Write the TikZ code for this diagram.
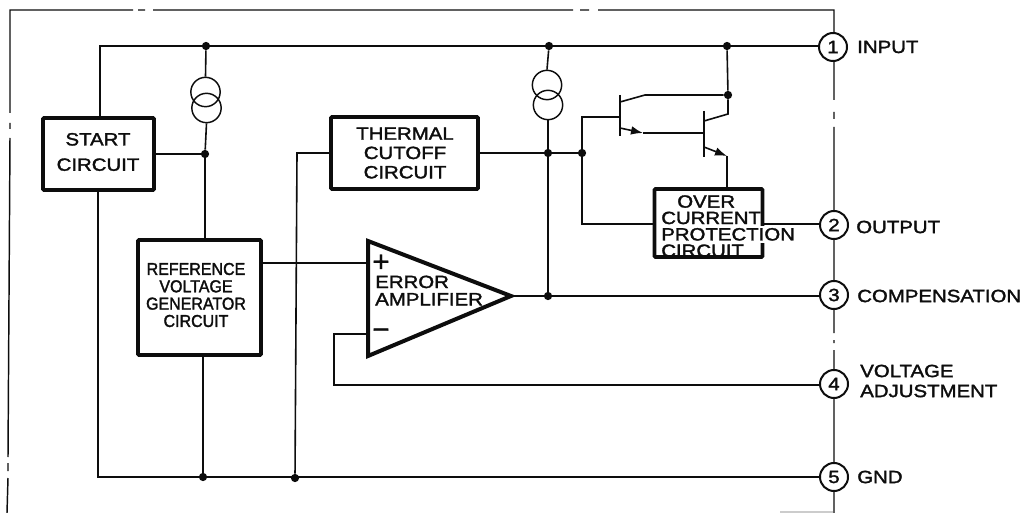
\documentclass[tikz,border=0pt]{standalone}
\usepackage{fontspec}
\usetikzlibrary{arrows.meta}
\setmainfont{Liberation Sans}
\newfontfamily\lblfont{Liberation Sans}[FakeStretch=1.15,FakeBold=1.8]
\newfontfamily\condfont{Liberation Sans}[FakeStretch=0.93,FakeBold=1.8]
\newfontfamily\symfont{Liberation Sans}[FakeBold=1]
\definecolor{ink}{gray}{0.05}
\tikzset{
  frameline/.style={draw=ink,line width=1.1pt},
  wire/.style={draw=ink,line width=1.2pt},
  blockbox/.style={draw=ink,line width=2.9pt,rounded corners=0.8pt,inner sep=0pt,anchor=center},
  lab/.style={text=ink,inner sep=0pt,font=\lblfont\fontsize{13.3}{15.5}\selectfont,align=center},
  pinlab/.style={lab,anchor=west,align=left},
  pin/.style={circle,draw=ink,fill=white,line width=1.5pt,minimum size=21pt,inner sep=0pt,text=ink,font=\lblfont\fontsize{13.3}{15}\selectfont},
  dot/.style={circle,fill=ink,inner sep=0pt,minimum size=6.2pt},
  source/.style={circle,draw=ink,line width=1.1pt,minimum size=22pt,inner sep=0pt},
  bar/.style={draw=ink,line width=1.2pt},
  emit/.style={wire,-{Latex[length=9pt,width=6.5pt]}},
}
\begin{document}
\begin{tikzpicture}[x=0.75pt,y=-0.75pt]
\useasboundingbox (0,0) rectangle (1028,513);

% package outline (broken, as printed)
\draw[frameline] (7,513) -- (8,478) (8,471) -- (8,463) (8,457) -- (10,138) (10,129) -- (10,123) (10,113) -- (10,10)
  -- (133,10) (138,10) -- (145,10) (153,10) -- (573,10) (580,10) -- (589,10) (598,10) -- (834,10)
  -- (834,100) (834,112) -- (834,119) (834,127) -- (834,333) (834,340) -- (834,343) (834,350) -- (834,513);
\draw[draw=black!20,line width=1pt] (780,512) -- (833,512);

% pins
\node[pin] (pin1) at (833,47) {1};
\node[pin] (pin2) at (834,225) {2};
\node[pin] (pin3) at (834,295) {3};
\node[pin] (pin4) at (834,384) {4};
\node[pin] (pin5) at (834,477) {5};
\node[pinlab] (l1) at (857,47) {INPUT};
\node[pinlab] (l2) at (856,227) {OUTPUT};
\node[pinlab] (l3) at (857,296) {COMPENSATION};
\node[pinlab] (l4) at (860,381) {VOLTAGE\\[-0.5pt]ADJUSTMENT};
\node[pinlab] (l5) at (857,477) {GND};

% blocks
\node[blockbox,minimum width=83.25pt,minimum height=54pt] (start) at (98.5,154) {};
\node[blockbox,minimum width=92.25pt,minimum height=86.25pt] (ref) at (199.5,297.5) {};
\node[blockbox,minimum width=110.25pt,minimum height=54pt] (therm) at (404.5,153) {};
\node[blockbox,minimum width=81pt,minimum height=51pt] (ocp) at (708.5,223) {};

% amplifier
\coordinate (ampT) at (368,241);
\coordinate (ampB) at (368,356);
\coordinate (ampO) at (511,296);
\coordinate (ampP) at (368,263);
\coordinate (ampM) at (368,334);
\draw[draw=ink,line width=3pt,line join=miter] (ampT) -- (ampO) -- (ampB) -- cycle;

% junctions
\node[dot] (j1) at (206,46) {};
\node[dot] (j2) at (549,46) {};
\node[dot] (j3) at (727,46) {};
\node[dot] (j4) at (205,154) {};
\node[dot] (j5) at (548,153) {};
\node[dot] (j6) at (582,153) {};
\node[dot] (j7) at (728,95) {};
\node[dot] (j8) at (548,296) {};
\node[dot] (j9) at (203,477) {};
\node[dot] (j10) at (295,478) {};

% current sources
\node[source] (s1a) at (205.5,92) {};
\node[source] (s1b) at (206.5,108) {};
\node[source] (s2a) at (547,85) {};
\node[source] (s2b) at (548,105) {};

% free corners
\coordinate (cTL) at (100,46);
\coordinate (cBL) at (98,477);
\coordinate (cTh) at (297,153);
\coordinate (cB1) at (582,117);
\coordinate (cB2) at (582,224);
\coordinate (cM1) at (334,334);
\coordinate (cM2) at (334,385);
\coordinate (q1t) at (620,95);
\coordinate (q1b) at (620,136);
\coordinate (q1base) at (620,117);
\coordinate (q1c) at (620,102);
\coordinate (q1c2) at (645,95);
\coordinate (q1e) at (620,128);
\coordinate (q1e2) at (643,133);
\coordinate (q2t) at (704,111);
\coordinate (q2b) at (704,157);
\coordinate (q2base) at (704,133);
\coordinate (q2c) at (704,121);
\coordinate (q2c2) at (728,114);
\coordinate (q2e) at (704,147);
\coordinate (q2e2) at (727,156);

% wiring
\draw[wire] (start.north -| cTL) -- (cTL) -- (pin1.west |- cTL);
\draw[wire] (start.south -| cBL) -- (cBL) -- (pin5.west);
\draw[wire] (j1) -- (s1a.north);
\draw[wire] (s1b.south) -- (j4);
\draw[wire] (start.east |- j4) -- (j4);
\draw[wire] (j4) -- (ref.north -| j4);
\draw[wire] (ref.south -| j9) -- (j9);
\draw[wire] (therm.west |- cTh) -- (cTh) -- (j10);
\draw[wire] (ref.east |- ampP) -- (ampP);
\draw[wire] (ampM) -- (cM1) -- (cM2) -- (pin4.west |- cM2);
\draw[wire] (ampO) -- (pin3.west |- ampO);
\draw[wire] (j2) -- (s2a.north);
\draw[wire] (s2b.south) -- (j5);
\draw[wire] (j5) -- (j8);
\draw[wire] (therm.east |- j6) -- (j6);
\draw[wire] (j6) -- (cB1) -- (q1base);
\draw[wire] (j6) -- (cB2) -- (ocp.west |- cB2);
\draw[wire] (ocp.east |- cB2) -- (pin2.west |- cB2);
\draw[wire] (j3) -- (j7) -- (q2c2) -- (q2c);
\draw[wire] (j7) -- (q1c2) -- (q1c);
\draw[bar] (q1t) -- (q1b);
\draw[bar] (q2t) -- (q2b);
\draw[emit] (q1e) -- (q1e2);
\draw[wire] (q1e2) -- (q2base);
\draw[emit] (q2e) -- (q2e2);
\draw[wire] (q2e2) -- (ocp.north -| q2e2);

% overlap of the printed label on the box edge
\fill[white] (760,226) rectangle (769,243);

% labels
\node[lab] (tstart) at (98,152) {START\\[3.5pt]CIRCUIT};
\node[lab] (ttherm) at (405,153) {THERMAL\\[-1pt]CUTOFF\\[-1pt]CIRCUIT};
\node[lab,font=\condfont\fontsize{12.9}{13}\selectfont] (tref) at (196,295) {REFERENCE\\VOLTAGE\\GENERATOR\\CIRCUIT};
\node[lab,anchor=north west,align=left,font=\lblfont\fontsize{13.3}{12.3}\selectfont] (tocp) at (661,195) {\hspace{12pt}OVER\\CURRENT\\PROTECTION\\CIRCUIT};
\node[lab,anchor=west,align=left] (tamp) at (375,290.5) {ERROR\\[-2.5pt]AMPLIFIER};
\node[text=ink,inner sep=0pt,font=\symfont\fontsize{22}{22}\selectfont] (tplus) at (381,263) {+};
\node[text=ink,inner sep=0pt,font=\symfont\fontsize{22}{22}\selectfont] (tminus) at (381,334) {−};
\end{tikzpicture}
\end{document}
